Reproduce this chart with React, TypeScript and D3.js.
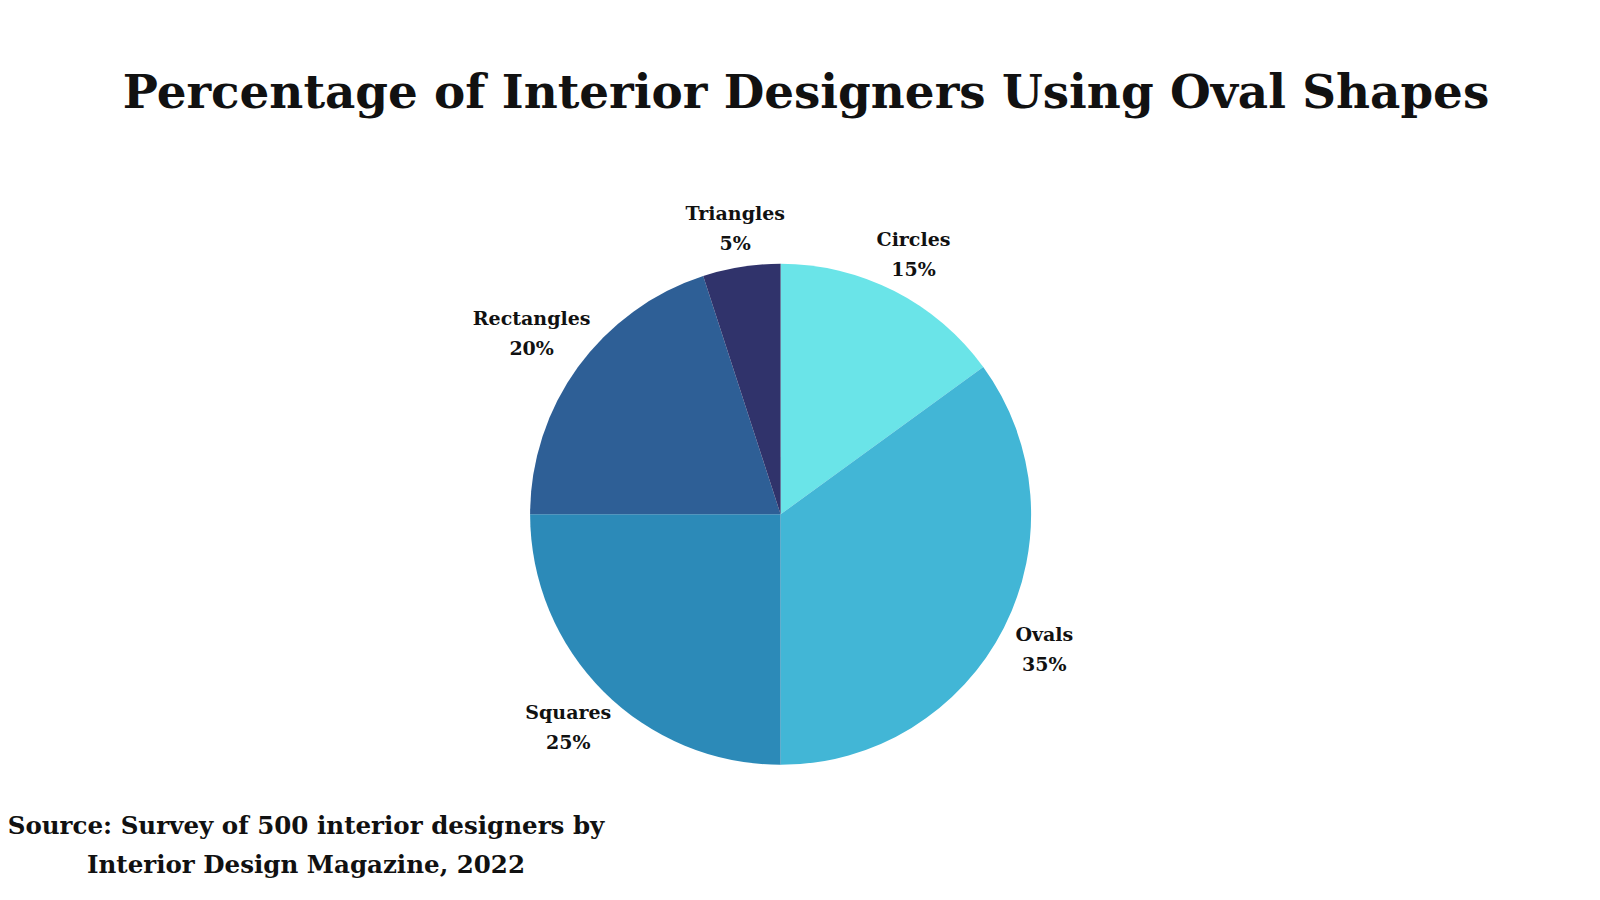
import React, { useEffect, useRef } from "react";
import * as d3 from "d3";

const categories = ["Circles", "Ovals", "Squares", "Rectangles", "Triangles"];
const values = [15, 35, 25, 20, 5];
const colors = ["#6ae4e8", "#42b6d6", "#2c8ab8", "#2e5f96", "#30336b"];
const titleText = "Percentage of Interior Designers Using Oval Shapes";
const sourceLines = ["Source: Survey of 500 interior designers by", "Interior Design Magazine, 2022"];

const W = 1600;
const H = 900;
const FONT = "'DejaVu Serif', serif";

export default function App() {
  const ref = useRef<SVGSVGElement | null>(null);

  useEffect(() => {
    const svg = d3.select(ref.current);
    svg.selectAll("*").remove();

    svg.append("rect").attr("width", W).attr("height", H).attr("fill", "#ffffff");

    // Title
    const title = svg
      .append("text")
      .attr("x", 806)
      .attr("y", 108)
      .attr("text-anchor", "middle")
      .attr("font-family", FONT)
      .attr("font-weight", "bold")
      .attr("font-size", 50)
      .attr("fill", "#111111")
      .text(titleText);
    const tNode = title.node() as SVGTextElement;
    const tw = tNode.getComputedTextLength();
    const targetTW = 1367;
    title.attr("font-size", (50 * targetTW) / tw);

    const cx = 780.6;
    const cy = 514.3;
    const R = 250.5;

    const data = categories.map((c, i) => ({ name: c, value: values[i], color: colors[i] }));
    const pie = d3
      .pie<any>()
      .sort(null)
      .value((d: any) => d.value);
    const arcs = pie(data);
    const arcGen = d3.arc<any>().innerRadius(0).outerRadius(R);

    const g = svg.append("g").attr("transform", `translate(${cx},${cy})`);
    g.selectAll("path")
      .data(arcs)
      .enter()
      .append("path")
      .attr("d", arcGen as any)
      .attr("fill", (d: any) => d.data.color);

    const gap = 13;
    arcs.forEach((a: any) => {
      const mid = (a.startAngle + a.endAngle) / 2;
      const dx = Math.sin(mid);
      const dy = -Math.cos(mid);
      const lg = g.append("g");
      const t = lg
        .append("text")
        .attr("text-anchor", "middle")
        .attr("font-family", FONT)
        .attr("font-weight", "bold")
        .attr("font-size", 19)
        .attr("fill", "#111111");
      t.append("tspan").attr("x", 0).attr("y", 0).text(a.data.name);
      t.append("tspan").attr("x", 0).attr("y", 30).text(`${a.data.value}%`);
      const bb = (t.node() as SVGTextElement).getBBox();
      const hw = bb.width / 2;
      const hh = bb.height / 2;
      const dd = Math.min(
        Math.abs(dx) > 1e-6 ? hw / Math.abs(dx) : Infinity,
        Math.abs(dy) > 1e-6 ? hh / Math.abs(dy) : Infinity
      );
      const rr = R + gap + dd;
      const px = dx * rr;
      const py = dy * rr;
      const bcx = bb.x + hw;
      const bcy = bb.y + hh;
      lg.attr("transform", `translate(${px - bcx},${py - bcy})`);
    });

    // Source
    const src = svg
      .append("text")
      .attr("text-anchor", "middle")
      .attr("font-family", FONT)
      .attr("font-weight", "bold")
      .attr("font-size", 24)
      .attr("fill", "#111111");
    src.append("tspan").attr("x", 306).attr("y", 834).text(sourceLines[0]);
    src.append("tspan").attr("x", 306).attr("y", 873).text(sourceLines[1]);
    const s0 = (src.select("tspan").node() as SVGTSpanElement).getComputedTextLength();
    src.attr("font-size", (24 * 597) / s0);
  }, []);

  return (
    <svg
      ref={ref}
      width={W}
      height={H}
      style={{ position: "absolute", left: 0, top: 0, display: "block" }}
    />
  );
}
